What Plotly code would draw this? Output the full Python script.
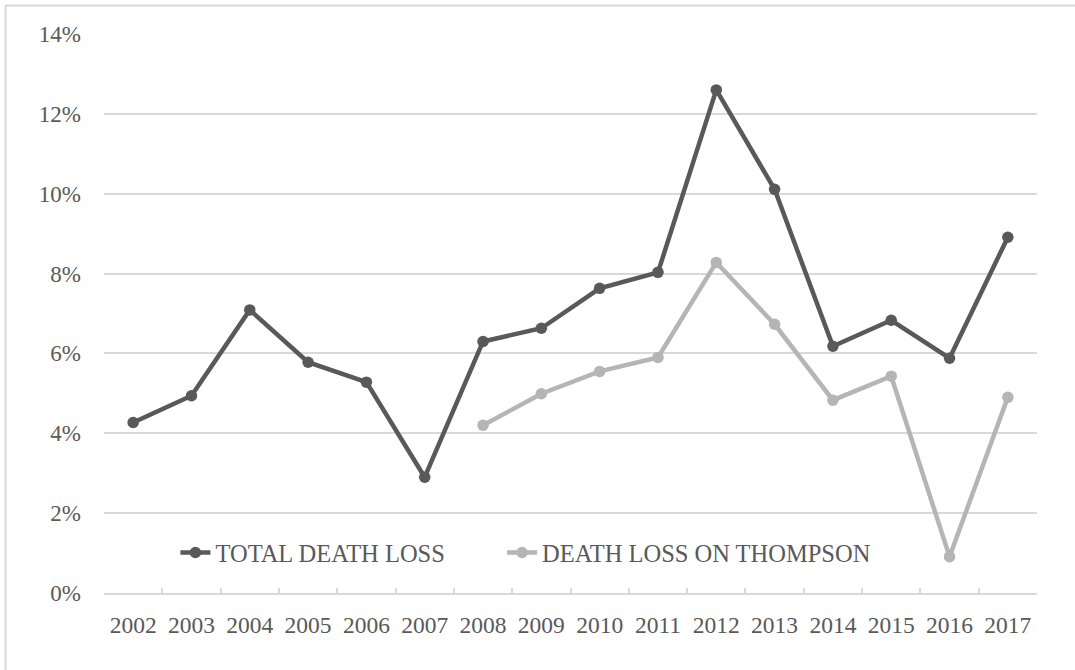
import plotly.graph_objects as go

years = ["2002", "2003", "2004", "2005", "2006", "2007", "2008", "2009",
         "2010", "2011", "2012", "2013", "2014", "2015", "2016", "2017"]
total_death_loss = [4.27, 4.94, 7.09, 5.78, 5.28, 2.90, 6.30, 6.63,
                    7.63, 8.03, 12.60, 10.11, 6.18, 6.83, 5.88, 8.91]
thompson_years = ["2008", "2009", "2010", "2011", "2012", "2013", "2014", "2015", "2016", "2017"]
thompson_death_loss = [4.20, 4.99, 5.55, 5.90, 8.28, 6.73, 4.83, 5.43, 0.91, 4.90]
y_ticks = [0, 2, 4, 6, 8, 10, 12, 14]
y_tick_labels = [f"{v}%" for v in y_ticks]

FONT = "Liberation Serif, Times New Roman, serif"
TXT = "#595959"
GRID = "#d9d9d9"

fig = go.Figure()
fig.add_trace(go.Scatter(
    x=years, y=total_death_loss, mode="lines+markers", name="TOTAL DEATH LOSS",
    line=dict(color="#595959", width=4.5), marker=dict(color="#595959", size=11.5),
    legend="legend",
))
fig.add_trace(go.Scatter(
    x=thompson_years, y=thompson_death_loss, mode="lines+markers", name="DEATH LOSS ON THOMPSON",
    line=dict(color="#b5b5b5", width=4.5), marker=dict(color="#b5b5b5", size=11.5),
    legend="legend2",
))

W, H = 1075, 670
PL, PR, PT, PB = 103.5, 1037.5, 33.5, 593.5   # plot area in window coords
L, R, T, B = PL, W - PR, PT, H - PB
pw, ph = PR - PL, PB - PT

def px_x(p):
    return (p - PL) / pw

def px_y(p):
    return (PB - p) / ph

legend_common = dict(
    orientation="h", y=px_y(553), xanchor="left", yanchor="middle",
    bgcolor="rgba(0,0,0,0)", font=dict(family=FONT, size=24.5, color=TXT),
    itemwidth=30,
)

fig.update_layout(
    width=W, height=H,
    margin=dict(l=L, r=R, t=T, b=B),
    paper_bgcolor="white", plot_bgcolor="white",
    font=dict(family=FONT, size=23, color=TXT),
    showlegend=True,
    legend=dict(x=px_x(175), **legend_common),
    legend2=dict(x=px_x(502), **legend_common),
    xaxis=dict(
        type="category", categoryorder="array", categoryarray=years,
        range=[-0.5, len(years) - 0.5],
        showgrid=False, showline=True, linecolor=GRID, linewidth=1.5,
        ticks="inside", tickson="boundaries", ticklen=5, tickcolor=GRID, tickwidth=1.5,
        tickfont=dict(family=FONT, size=23.5, color=TXT),
        zeroline=False, ticklabelstandoff=10,
    ),
    yaxis=dict(
        range=[0, 14], tickvals=y_ticks, ticktext=y_tick_labels,
        showgrid=True, gridcolor=GRID, gridwidth=1.5,
        showline=False, zeroline=False, ticks="",
        tickfont=dict(family=FONT, size=23, color=TXT),
        ticklabelstandoff=22,
    ),
    shapes=[dict(
        type="rect", xref="paper", yref="paper",
        x0=px_x(5), x1=px_x(1085), y0=px_y(680), y1=px_y(5),
        line=dict(color=GRID, width=2), fillcolor="rgba(0,0,0,0)", layer="below",
    )],
)

fig.write_html("out.html", config={"displayModeBar": False},
               post_script="document.body.style.margin='0';")
